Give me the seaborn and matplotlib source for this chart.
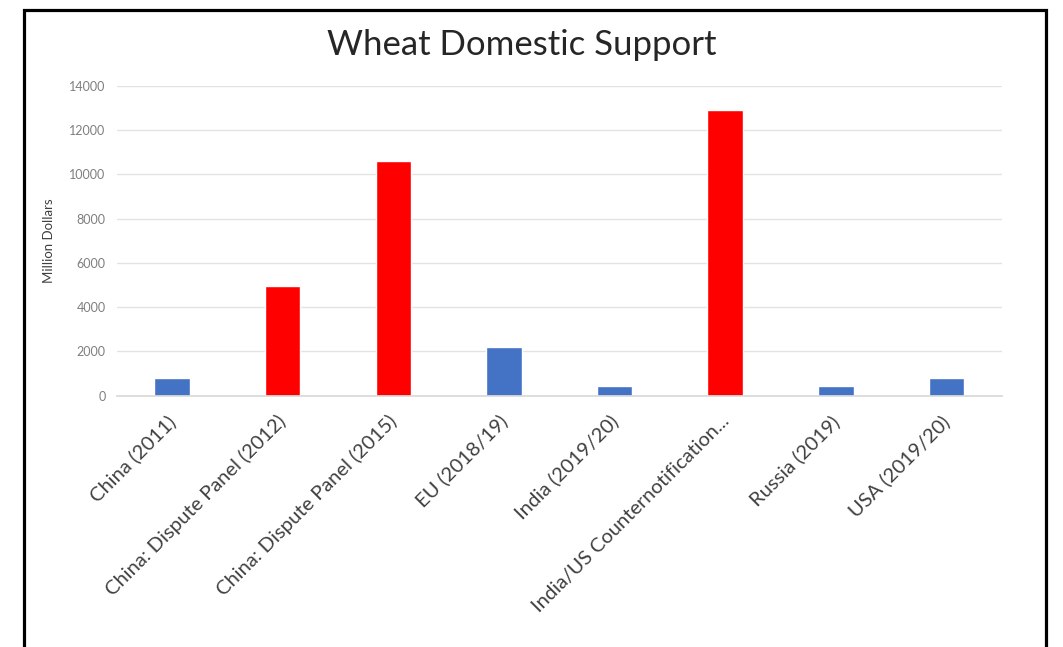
import seaborn as sns
import pandas as pd
import matplotlib.pyplot as plt
from matplotlib.patches import Rectangle
from matplotlib.transforms import ScaledTranslation

# Wheat domestic support, million dollars
categories = [
    "China (2011)",
    "China: Dispute Panel (2012)",
    "China: Dispute Panel (2015)",
    "EU (2018/19)",
    "India (2019/20)",
    "India/US Counternotification...",
    "Russia (2019)",
    "USA (2019/20)",
]
support = [800, 4950, 10600, 2200, 430, 12900, 430, 800]
# bars from disputes / counter-notifications are drawn red
is_dispute = [False, True, True, False, False, True, False, False]
y_ticks = [0, 2000, 4000, 6000, 8000, 10000, 12000, 14000]

sns.set_theme(style="white")
plt.rcParams["font.family"] = ["Lato", "DejaVu Sans"]

df = pd.DataFrame({"category": categories, "support": support, "dispute": is_dispute})
palette = {c: ("#FF0000" if d else "#4472C4") for c, d in zip(categories, is_dispute)}

fig = plt.figure(figsize=(10.63, 6.47), dpi=100)
ax = fig.add_axes([0.1098, 0.3887, 0.8326, 0.4784])

sns.barplot(data=df, x="category", y="support", hue="category", palette=palette,
            width=0.32, saturation=1, legend=False, ax=ax)

ax.set_xlim(-0.5, len(categories) - 0.5)
ax.set_ylim(0, 14000)
ax.set_yticks(y_ticks)
ax.set_yticklabels([str(t) for t in y_ticks], fontsize=9, color="#7F7F7F")
ax.yaxis.grid(True, color="#E3E3E3", lw=1)
ax.set_axisbelow(True)
for s in ["top", "right", "left"]:
    ax.spines[s].set_visible(False)
ax.spines["bottom"].set_color("#D9D9D9")
ax.tick_params(axis="both", length=0)
ax.tick_params(axis="y", pad=8)
ax.tick_params(axis="x", pad=12)

# Excel puts the rotated label end a little right of the bar centre
shift = ScaledTranslation(7 / 100, 0, fig.dpi_scale_trans)
for lab in ax.get_xticklabels():
    lab.set_rotation(45)
    lab.set_ha("right")
    lab.set_fontsize(14.5)
    lab.set_color("#404040")
    lab.set_transform(lab.get_transform() + shift)
ax.set_xlabel("")
ax.set_ylabel("Million Dollars", fontsize=9.5, color="#404040", labelpad=10)

fig.text(522 / 1063, 1 - 45 / 647, "Wheat Domestic Support", ha="center", va="center",
         fontsize=25, color="#262626")

# black frame around the chart (cut off at the bottom in the reference)
frame = Rectangle((24 / 1063, -0.05), (1046 - 24) / 1063, 1.05 - 10 / 647,
                  transform=fig.transFigure, fill=False, edgecolor="black", lw=2.3)
fig.patches.append(frame)

fig.savefig("out.png", dpi=100)
plt.close()
